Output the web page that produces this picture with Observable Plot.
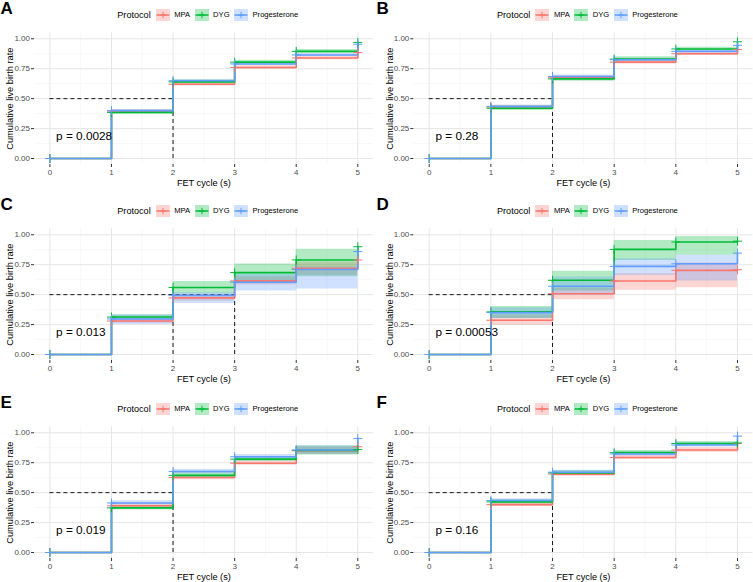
<!DOCTYPE html>
<html><head><meta charset="utf-8">
<script src="https://cdn.jsdelivr.net/npm/d3@7"></script>
<script src="https://cdn.jsdelivr.net/npm/@observablehq/plot@0.6"></script>
<style>
body{margin:0;background:#fff;font-family:"Liberation Sans",Arial,sans-serif;}
#fig{position:relative;width:753px;height:582px;overflow:hidden;background:#fff}
.cell{position:absolute;height:188px}
.letter{position:absolute;left:0.5px;top:0px;font-size:17px;font-weight:bold;line-height:17px;color:#000}
.legend{position:absolute;top:7.5px;display:flex;align-items:center;height:14px;white-space:nowrap}
.legend .ttl{font-size:9.1px;margin-right:5px;color:#000}
.legend .lab{font-size:7.6px;margin-left:4.5px;margin-right:4.5px;color:#000}
.legend svg{display:block}
.plotbox{position:absolute;top:28px;left:0}
</style></head><body><div id="fig"></div>
<script>
const times = [0, 1, 2, 3, 4, 5];
const protocols = ["MPA", "DYG", "Progesterone"];
const colors = ["#F8766D", "#00BA38", "#619CFF"];
const panelLetters = ["A", "B", "C", "D", "E", "F"];
const pValues = ["p = 0.0028", "p = 0.28", "p = 0.013", "p = 0.00053", "p = 0.019", "p = 0.16"];
const pX = 0.1, pY = 0.19;
const xTicks = [0, 1, 2, 3, 4, 5];
const xMinor = [0.5, 1.5, 2.5, 3.5, 4.5];
const yTicks = [0, 0.25, 0.5, 0.75, 1];
const yMinor = [0.125, 0.375, 0.625, 0.875];
const xLabel = "FET cycle (s)";
const yLabel = "Cumulative live birth rate";
const legendTitle = "Protocol";

// rows: MPA, DYG, Progesterone ; columns: times
const estA = [[0,0.390,0.620,0.760,0.840,0.885],[0,0.385,0.640,0.805,0.895,0.970],[0,0.400,0.650,0.790,0.865,0.955]];
const loA  = [[0,0.375,0.605,0.745,0.825,0.865],[0,0.370,0.625,0.790,0.880,0.955],[0,0.390,0.640,0.778,0.853,0.940]];
const hiA  = [[0,0.405,0.635,0.775,0.855,0.905],[0,0.400,0.655,0.820,0.910,0.985],[0,0.410,0.660,0.802,0.877,0.968]];

const estB = [[0,0.430,0.675,0.805,0.875,0.910],[0,0.420,0.665,0.830,0.915,0.975],[0,0.435,0.685,0.825,0.895,0.945]];
const loB  = [[0,0.415,0.660,0.790,0.860,0.890],[0,0.400,0.645,0.810,0.900,0.960],[0,0.425,0.672,0.813,0.885,0.930]];
const hiB  = [[0,0.445,0.690,0.820,0.890,0.925],[0,0.440,0.685,0.850,0.930,0.990],[0,0.445,0.698,0.837,0.905,0.958]];

const estC = [[0,0.280,0.473,0.615,0.720,0.790],[0,0.313,0.560,0.684,0.790,0.900],[0,0.297,0.494,0.604,0.710,0.860]];
const loC  = [[0,0.262,0.445,0.580,0.660,0.720],[0,0.290,0.505,0.604,0.650,0.800],[0,0.250,0.427,0.530,0.547,0.760]];
const hiC  = [[0,0.302,0.500,0.650,0.770,0.850],[0,0.333,0.610,0.755,0.880,0.960],[0,0.330,0.515,0.670,0.730,0.930]];

const estD = [[0,0.286,0.508,0.614,0.703,0.708],[0,0.356,0.620,0.878,0.940,0.947],[0,0.350,0.570,0.736,0.758,0.847]];
const loD  = [[0,0.245,0.458,0.536,0.558,0.560],[0,0.300,0.530,0.786,0.830,0.840],[0,0.300,0.494,0.660,0.614,0.650]];
const hiD  = [[0,0.330,0.555,0.675,0.764,0.770],[0,0.400,0.695,0.953,0.986,0.990],[0,0.390,0.647,0.800,0.830,0.900]];

const estE = [[0,0.390,0.627,0.746,0.850,0.884],[0,0.373,0.644,0.780,0.853,0.860],[0,0.414,0.677,0.800,0.856,0.953]];
const loE  = [[0,0.372,0.607,0.728,0.818,0.850],[0,0.355,0.622,0.760,0.815,0.825],[0,0.396,0.658,0.782,0.820,0.925]];
const hiE  = [[0,0.408,0.647,0.764,0.882,0.915],[0,0.391,0.666,0.800,0.890,0.895],[0,0.432,0.696,0.818,0.892,0.975]];

const estF = [[0,0.400,0.655,0.793,0.856,0.911],[0,0.423,0.665,0.834,0.910,0.915],[0,0.434,0.671,0.823,0.898,0.972]];
const loF  = [[0,0.385,0.638,0.776,0.838,0.890],[0,0.405,0.645,0.816,0.893,0.900],[0,0.418,0.655,0.806,0.882,0.955]];
const hiF  = [[0,0.415,0.672,0.810,0.874,0.930],[0,0.441,0.685,0.852,0.927,0.935],[0,0.450,0.687,0.840,0.914,0.985]];

const estPanels = [estA, estB, estC, estD, estE, estF];
const loPanels = [loA, loB, loC, loD, loE, loF];
const hiPanels = [hiA, hiB, hiC, hiD, hiE, hiF];

// layout
const rowTops = [0, 196, 394];
const colLefts = [0, 376];
const colWidths = [376, 377];
const colMarginLeft = [34, 37.3];
const colMarginRight = [3.3, 0.6];
const legendLefts = [117.3, 121];

const fig = document.getElementById("fig");

function legendKey(color) {
  const ns = "http://www.w3.org/2000/svg";
  const s = document.createElementNS(ns, "svg");
  s.setAttribute("width", 14); s.setAttribute("height", 12);
  s.innerHTML = `<rect x="0" y="0" width="14" height="12" fill="${color}" fill-opacity="0.3"></rect>
    <line x1="0.5" x2="13.5" y1="6" y2="6" stroke="${color}" stroke-width="1.5"></line>
    <path d="M7,2.8V9.2M3.8,6H10.2" stroke="${color}" stroke-width="1" fill="none"></path>`;
  return s;
}

panelLetters.forEach((letter, p) => {
  const col = p % 2, row = Math.floor(p / 2);
  const cell = document.createElement("div");
  cell.className = "cell";
  cell.style.left = colLefts[col] + "px";
  cell.style.top = rowTops[row] + "px";
  cell.style.width = colWidths[col] + "px";
  fig.appendChild(cell);

  const est = estPanels[p], lo = loPanels[p], hi = hiPanels[p];
  const rows = [];
  protocols.forEach((pr, i) => {
    times.forEach((tt, j) => {
      rows.push({protocol: pr, t: tt, est: est[i][j], lo: lo[i][j], hi: hi[i][j]});
    });
  });
  const medians = protocols.map((pr, i) => times.find((tt, j) => est[i][j] >= 0.5)).filter(d => d !== undefined);
  const medUnique = Array.from(new Set(medians));
  const medMax = d3.max(medUnique);

  const chart = Plot.plot({
    width: colWidths[col],
    height: 160,
    marginLeft: colMarginLeft[col],
    marginRight: colMarginRight[col],
    marginTop: 4.3,
    marginBottom: 24,
    x: {domain: [-0.25, 5.25]},
    y: {domain: [-0.05, 1.05]},
    color: {domain: protocols, range: colors},
    style: {fontFamily: '"Liberation Sans", Arial, sans-serif', background: "white", overflow: "visible"},
    marks: [
      Plot.gridX(xMinor, {stroke: "#f2f2f2", strokeOpacity: 1, strokeWidth: 0.6}),
      Plot.gridY(yMinor, {stroke: "#f2f2f2", strokeOpacity: 1, strokeWidth: 0.6}),
      Plot.gridX(xTicks, {stroke: "#e6e6e6", strokeOpacity: 1, strokeWidth: 1}),
      Plot.gridY(yTicks, {stroke: "#e6e6e6", strokeOpacity: 1, strokeWidth: 1}),
      Plot.axisX({ticks: xTicks, tickSize: 3, tickPadding: 2, fontSize: 8, color: "#4d4d4d", stroke: "#333", label: null, tickFormat: d => String(d)}),
      Plot.axisY({ticks: yTicks, tickSize: 3, tickPadding: 1.5, fontSize: 8, color: "#4d4d4d", stroke: "#333", label: null, tickFormat: d3.format(".2f")}),
      Plot.areaY(rows, {x: "t", y1: "lo", y2: "hi", fill: "protocol", z: "protocol", fillOpacity: 0.3, curve: "step-after"}),
      Plot.ruleY([0.5], {x1: 0, x2: medMax, stroke: "black", strokeWidth: 0.9, strokeDasharray: "4,3"}),
      Plot.ruleX(medUnique, {y1: 0, y2: 0.5, stroke: "black", strokeWidth: 0.9, strokeDasharray: "4,3"}),
      Plot.line(rows, {x: "t", y: "est", stroke: "protocol", z: "protocol", curve: "step-after", strokeWidth: 1.6}),
      Plot.dot(rows, {x: "t", y: "est", stroke: "protocol", symbol: "plus", r: 3, strokeWidth: 1}),
      Plot.text([pValues[p]], {x: pX, y: pY, text: d => d, textAnchor: "start", lineAnchor: "middle", fontSize: 11.8, fill: "black"}),
      Plot.text([xLabel], {frameAnchor: "bottom", dy: 19, text: d => d, textAnchor: "middle", lineAnchor: "middle", fontSize: 9.2, fill: "black"}),
      Plot.text([yLabel], {frameAnchor: "left", dx: -24, rotate: -90, text: d => d, textAnchor: "middle", lineAnchor: "middle", fontSize: 9.3, fill: "black"})
    ]
  });
  const box = document.createElement("div");
  box.className = "plotbox";
  box.appendChild(chart);
  cell.appendChild(box);

  const L = document.createElement("div");
  L.className = "letter"; L.textContent = letter;
  cell.appendChild(L);

  const leg = document.createElement("div");
  leg.className = "legend";
  leg.style.left = legendLefts[col] + "px";
  const t = document.createElement("span"); t.className = "ttl"; t.textContent = legendTitle;
  leg.appendChild(t);
  protocols.forEach((pr, i) => {
    leg.appendChild(legendKey(colors[i]));
    const lb = document.createElement("span"); lb.className = "lab"; lb.textContent = pr;
    leg.appendChild(lb);
  });
  cell.appendChild(leg);
});
</script>
</body></html>
